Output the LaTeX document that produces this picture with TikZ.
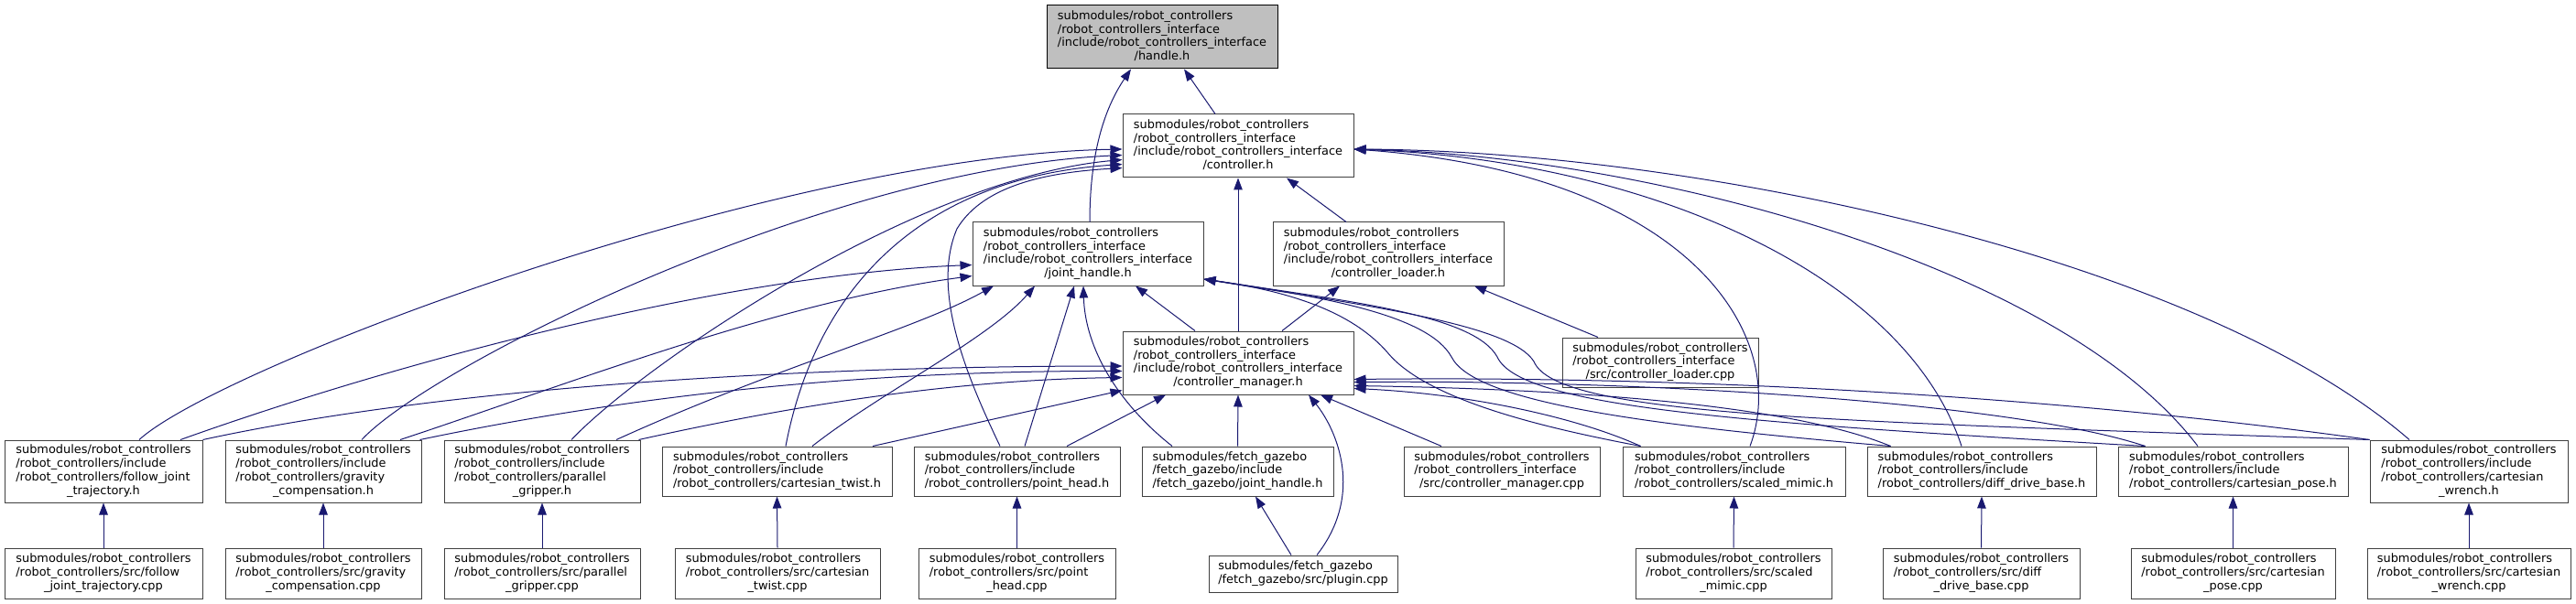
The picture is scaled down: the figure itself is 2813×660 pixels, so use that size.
\documentclass[tikz,border=0pt]{standalone}
\usepackage{fontspec}
\setmainfont{DejaVu Sans}
\usetikzlibrary{arrows.meta}
\definecolor{edgec}{HTML}{191970}
\definecolor{boxc}{HTML}{404040}
\definecolor{rootfill}{HTML}{BFBFBF}
\newcommand{\lbl}[2]{\begin{tabular}{@{}l@{}}#1\\\multicolumn{1}{@{}c@{}}{#2}\end{tabular}}
\tikzset{
  box/.style={draw=boxc, line width=1pt, fill=white, inner sep=0pt, font=\fontsize{12.9}{14.8}\selectfont},
  four/.style={box, minimum height=69pt},
  three/.style={box, minimum height=54pt},
  dep/.style={draw=edgec, line width=1pt, -{Triangle[length=13pt,width=9.5pt]}}
}
\begin{document}
\begin{tikzpicture}[x=1pt,y=-1pt]
\fill[white] (0,0) rectangle (2813,660);
\useasboundingbox (0,0) rectangle (2813,660);
% level 0-3
\node[four, minimum width=252pt, fill=rootfill, draw=black] (handle) at (1269,40.5) {\lbl{submodules/robot\_controllers\\/robot\_controllers\_interface\\/include/robot\_controllers\_interface}{/handle.h}};
\node[four, minimum width=252pt] (ctrl) at (1352,159.5) {\lbl{submodules/robot\_controllers\\/robot\_controllers\_interface\\/include/robot\_controllers\_interface}{/controller.h}};
\node[four, minimum width=252pt] (jh) at (1188,277.5) {\lbl{submodules/robot\_controllers\\/robot\_controllers\_interface\\/include/robot\_controllers\_interface}{/joint\_handle.h}};
\node[four, minimum width=252pt] (ldr) at (1516,277.5) {\lbl{submodules/robot\_controllers\\/robot\_controllers\_interface\\/include/robot\_controllers\_interface}{/controller\_loader.h}};
\node[four, minimum width=252pt] (mgr) at (1352,396.5) {\lbl{submodules/robot\_controllers\\/robot\_controllers\_interface\\/include/robot\_controllers\_interface}{/controller\_manager.h}};
\node[three, minimum width=214pt] (ldrcpp) at (1813,396) {\lbl{submodules/robot\_controllers\\/robot\_controllers\_interface}{/src/controller\_loader.cpp}};
% level 4
\node[box, minimum width=216pt, minimum height=68pt] (fjt) at (113,515) {\lbl{submodules/robot\_controllers\\/robot\_controllers/include\\/robot\_controllers/follow\_joint}{\_trajectory.h}};
\node[box, minimum width=214pt, minimum height=68pt] (grav) at (353,515) {\lbl{submodules/robot\_controllers\\/robot\_controllers/include\\/robot\_controllers/gravity}{\_compensation.h}};
\node[box, minimum width=214pt, minimum height=68pt] (par) at (592,515) {\lbl{submodules/robot\_controllers\\/robot\_controllers/include\\/robot\_controllers/parallel}{\_gripper.h}};
\node[three, minimum width=251pt] (twist) at (848.5,515) {\lbl{submodules/robot\_controllers\\/robot\_controllers/include}{/robot\_controllers/cartesian\_twist.h}};
\node[three, minimum width=225pt] (ph) at (1110.5,515) {\lbl{submodules/robot\_controllers\\/robot\_controllers/include}{/robot\_controllers/point\_head.h}};
\node[three, minimum width=209pt] (fjh) at (1351.5,515) {\lbl{submodules/fetch\_gazebo\\/fetch\_gazebo/include}{/fetch\_gazebo/joint\_handle.h}};
\node[three, minimum width=214pt] (mgrcpp) at (1640,515) {\lbl{submodules/robot\_controllers\\/robot\_controllers\_interface}{/src/controller\_manager.cpp}};
\node[three, minimum width=243pt] (sm) at (1893.5,515) {\lbl{submodules/robot\_controllers\\/robot\_controllers/include}{/robot\_controllers/scaled\_mimic.h}};
\node[three, minimum width=250pt] (ddb) at (2164,515) {\lbl{submodules/robot\_controllers\\/robot\_controllers/include}{/robot\_controllers/diff\_drive\_base.h}};
\node[three, minimum width=251pt] (pose) at (2438.5,515) {\lbl{submodules/robot\_controllers\\/robot\_controllers/include}{/robot\_controllers/cartesian\_pose.h}};
\node[box, minimum width=216pt, minimum height=68pt] (wrench) at (2696,515) {\lbl{submodules/robot\_controllers\\/robot\_controllers/include\\/robot\_controllers/cartesian}{\_wrench.h}};
% level 5
\node[box, minimum width=216pt, minimum height=55pt] (fjtc) at (113,626.5) {\lbl{submodules/robot\_controllers\\/robot\_controllers/src/follow}{\_joint\_trajectory.cpp}};
\node[box, minimum width=214pt, minimum height=55pt] (gravc) at (353,626.5) {\lbl{submodules/robot\_controllers\\/robot\_controllers/src/gravity}{\_compensation.cpp}};
\node[box, minimum width=214pt, minimum height=55pt] (parc) at (592,626.5) {\lbl{submodules/robot\_controllers\\/robot\_controllers/src/parallel}{\_gripper.cpp}};
\node[box, minimum width=224pt, minimum height=55pt] (twistc) at (849,626.5) {\lbl{submodules/robot\_controllers\\/robot\_controllers/src/cartesian}{\_twist.cpp}};
\node[box, minimum width=215pt, minimum height=55pt] (phc) at (1110.5,626.5) {\lbl{submodules/robot\_controllers\\/robot\_controllers/src/point}{\_head.cpp}};
\node[box, minimum width=206pt, minimum height=40pt] (plugin) at (1423,627) {\lbl{submodules/fetch\_gazebo}{/fetch\_gazebo/src/plugin.cpp}};
\node[box, minimum width=214pt, minimum height=55pt] (smc) at (1893,626.5) {\lbl{submodules/robot\_controllers\\/robot\_controllers/src/scaled}{\_mimic.cpp}};
\node[box, minimum width=215pt, minimum height=55pt] (ddbc) at (2163.5,626.5) {\lbl{submodules/robot\_controllers\\/robot\_controllers/src/diff}{\_drive\_base.cpp}};
\node[box, minimum width=223pt, minimum height=55pt] (posec) at (2438.5,626.5) {\lbl{submodules/robot\_controllers\\/robot\_controllers/src/cartesian}{\_pose.cpp}};
\node[box, minimum width=222pt, minimum height=55pt] (wrenchc) at (2696,626.5) {\lbl{submodules/robot\_controllers\\/robot\_controllers/src/cartesian}{\_wrench.cpp}};

% ---- edges (source -> included file) ----
\draw[dep] ([xshift=-25pt]ctrl.north) -- ([xshift=24pt]handle.south);
\draw[dep] ([xshift=2pt]jh.north) .. controls (1190,170) and (1205,120) .. ([xshift=-34pt]handle.south);
\draw[dep] (mgr.north) -- (ctrl.south);
\draw[dep] ([xshift=-47pt]mgr.north) -- ([xshift=52pt]jh.south);
\draw[dep] ([xshift=48pt]mgr.north) -- ([xshift=-53pt]ldr.south);
\draw[dep] ([xshift=-46pt]ldr.north) -- ([xshift=53pt]ctrl.south);
\draw[dep] ([xshift=-68pt]ldrcpp.north) -- ([xshift=94pt]ldr.south);
% left-hand headers -> controller.h
\draw[dep] ([xshift=39pt]fjt.north) .. controls (240,400) and (850,170) .. ([yshift=-3.5pt]ctrl.west);
\draw[dep] ([xshift=42pt]grav.north) .. controls (470,400) and (900,185) .. ([yshift=-10pt]ctrl.west);
\draw[dep] ([xshift=32pt]par.north) .. controls (700,400) and (1000,195) .. ([yshift=-15pt]ctrl.west);
\draw[dep] ([xshift=9.5pt]twist.north) .. controls (890,320) and (1000,195) .. ([yshift=-20pt]ctrl.west);
\draw[dep] ([xshift=-18.5pt]ph.north) .. controls (1060,420) and (1015,320) .. (1045,250) .. controls (1075,200) and (1150,188) .. ([yshift=-24pt]ctrl.west);
% -> joint_handle.h
\draw[dep] ([xshift=84pt]fjt.north) .. controls (450,390) and (800,300) .. ([yshift=-12pt]jh.west);
\draw[dep] ([xshift=84pt]grav.north) .. controls (620,420) and (850,330) .. ([yshift=-24pt]jh.west);
\draw[dep] ([xshift=81pt]par.north) .. controls (850,400) and (1000,360) .. ([xshift=-103pt]jh.south);
\draw[dep] ([xshift=38.5pt]twist.north) .. controls (960,430) and (1080,370) .. ([xshift=-58pt]jh.south);
\draw[dep] ([xshift=8.5pt]ph.north) -- ([xshift=-15pt]jh.south);
\draw[dep] ([xshift=-71.5pt]fjh.north) .. controls (1220,440) and (1185,380) .. ([xshift=-5pt]jh.south);
% -> controller_manager.h
\draw[dep] (fjt.north east) .. controls (500,420) and (900,400) .. ([yshift=-3.5pt]mgr.west);
\draw[dep] ([xshift=-2pt]grav.north east) .. controls (700,430) and (950,405) .. ([yshift=-9pt]mgr.west);
\draw[dep] ([xshift=-2pt]par.north east) .. controls (880,440) and (1050,415) .. ([yshift=-16pt]mgr.west);
\draw[dep] ([xshift=104.5pt]twist.north) -- ([yshift=-30pt]mgr.west);
\draw[dep] ([xshift=54.5pt]ph.north) -- ([xshift=-79pt]mgr.south);
\draw[dep] (fjh.north) -- (mgr.south);
\draw[dep] ([xshift=15pt]plugin.north) .. controls (1490,540) and (1460,470) .. ([xshift=77pt]mgr.south);
\draw[dep] ([xshift=-66pt]mgrcpp.north) -- ([xshift=90pt]mgr.south);
\draw[dep] ([xshift=-13pt]plugin.north) -- ([xshift=19.5pt]fjh.south);
% right-hand headers -> controller.h
\draw[dep] ([xshift=17.5pt]sm.north) .. controls (1955,370) and (1850,190) .. ([yshift=-3.5pt]ctrl.east);
\draw[dep] ([xshift=-22pt]ddb.north) .. controls (2080,300) and (1800,175) .. ([yshift=-3.5pt]ctrl.east);
\draw[dep] ([xshift=-38.5pt]pose.north) .. controls (2250,290) and (1800,170) .. ([yshift=-3.5pt]ctrl.east);
\draw[dep] ([xshift=-65pt]wrench.north) .. controls (2400,280) and (1850,165) .. ([yshift=-3.5pt]ctrl.east);
% right-hand headers -> joint_handle.h
\draw[dep] ([xshift=20pt]sm.north west) .. controls (1700,470) and (1560,440) .. (1515,385) .. controls (1480,345) and (1420,320) .. ([yshift=-27.5pt]jh.east);
\draw[dep] ([xshift=26pt]ddb.north west) .. controls (1800,465) and (1610,440) .. (1585,390) .. controls (1560,345) and (1450,325) .. ([yshift=-27.5pt]jh.east);
\draw[dep] ([xshift=30pt]pose.north west) .. controls (1900,462) and (1660,445) .. (1635,390) .. controls (1610,345) and (1480,330) .. ([yshift=-27.5pt]jh.east);
\draw[dep] (wrench.north west) .. controls (2000,460) and (1700,455) .. (1675,395) .. controls (1650,355) and (1500,335) .. ([yshift=-27.5pt]jh.east);
% right-hand headers -> controller_manager.h
\draw[dep] ([xshift=20pt]sm.north west) .. controls (1720,455) and (1600,430) .. ([yshift=-28pt]mgr.east);
\draw[dep] ([xshift=26pt]ddb.north west) .. controls (1950,440) and (1700,425) .. ([yshift=-25pt]mgr.east);
\draw[dep] ([xshift=30pt]pose.north west) .. controls (2200,440) and (1800,415) .. ([yshift=-21pt]mgr.east);
\draw[dep] (wrench.north west) .. controls (2300,440) and (1900,410) .. ([yshift=-18pt]mgr.east);
% sources -> headers
\draw[dep] (fjtc.north) -- (fjt.south);
\draw[dep] (gravc.north) -- (grav.south);
\draw[dep] (parc.north) -- (par.south);
\draw[dep] (twistc.north) -- (twist.south);
\draw[dep] (phc.north) -- (ph.south);
\draw[dep] (smc.north) -- (sm.south);
\draw[dep] (ddbc.north) -- (ddb.south);
\draw[dep] (posec.north) -- (pose.south);
\draw[dep] (wrenchc.north) -- (wrench.south);
\end{tikzpicture}
\end{document}
